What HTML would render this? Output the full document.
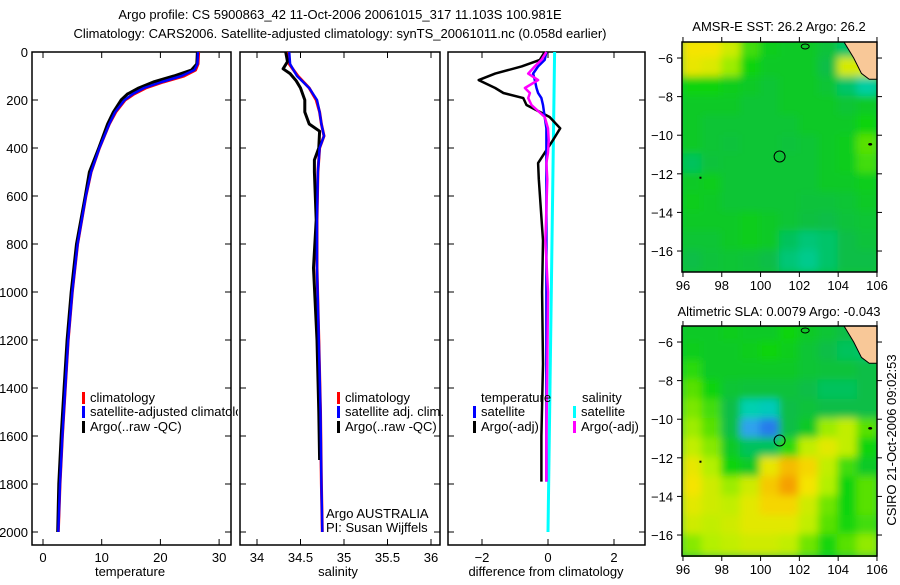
<!DOCTYPE html>
<html><head><meta charset="utf-8"><style>
html,body{margin:0;padding:0;background:#fff;}
svg text{font-family:"Liberation Sans",sans-serif;font-size:13px;fill:#000;}
</style></head><body>
<svg id="chart" width="900" height="580" viewBox="0 0 900 580" xmlns="http://www.w3.org/2000/svg">
<defs>
<filter id="blur" x="0" y="0" width="1" height="1"><feGaussianBlur stdDeviation="4"/></filter>
<clipPath id="clipMap1"><rect x="682" y="42" width="195" height="230"/></clipPath>
<clipPath id="clipMap2"><rect x="682" y="326" width="195" height="231"/></clipPath>
<clipPath id="clipP1"><rect x="32" y="52" width="206" height="493"/></clipPath>
</defs>
<text x="340" y="19" text-anchor="middle" font-size="13.5">Argo profile: CS 5900863_42 11-Oct-2006 20061015_317 11.103S 100.981E</text>
<text x="340" y="38" text-anchor="middle" font-size="13.5">Climatology: CARS2006. Satellite-adjusted climatology: synTS_20061011.nc (0.058d earlier)</text>
<g id="g"></g>
<text x="779" y="31" text-anchor="middle">AMSR-E SST: 26.2 Argo: 26.2</text>
<text x="779" y="316" text-anchor="middle">Altimetric SLA: 0.0079 Argo: -0.043</text>
<text transform="translate(896,440) rotate(-90)" text-anchor="middle">CSIRO 21-Oct-2006 09:02:53</text>
</svg>
<script>
// ---- data ----
const depthTicks=[0,200,400,600,800,1000,1200,1400,1600,1800,2000];
const tDepth=[0,50,75,100,125,150,175,200,250,300,400,500,600,800,1000,1200,1400,1600,1800,2000];
const tClim=[26.5,26.4,26.0,24.0,20.5,17.5,15.5,14.0,12.4,11.3,9.6,8.2,7.3,5.9,5.0,4.3,3.8,3.3,2.9,2.6];
const tSat=[26.4,26.3,25.8,23.6,20.2,17.2,15.3,13.9,12.3,11.3,9.6,8.2,7.3,5.9,5.0,4.3,3.8,3.3,2.9,2.6];
const tArgo=[26.3,26.2,25.3,22.3,18.8,16.3,14.4,13.3,12.0,11.0,9.5,7.9,7.2,5.7,4.8,4.1,3.6,3.1,2.7,2.5];
const sDepth=[0,50,75,100,150,200,250,300,350,400,500,700,900,1200,1500,1800,2000];
const sClim=[34.35,34.37,34.42,34.47,34.6,34.68,34.72,34.74,34.77,34.72,34.7,34.69,34.69,34.71,34.73,34.74,34.75];
const sSat=[34.37,34.38,34.42,34.46,34.6,34.69,34.72,34.74,34.77,34.72,34.7,34.69,34.69,34.71,34.73,34.74,34.75];
const aDepth=[0,40,70,90,120,150,200,250,300,330,400,450,500,700,900,1200,1500,1700];
const sArgo=[34.33,34.35,34.3,34.38,34.45,34.5,34.55,34.55,34.6,34.72,34.71,34.66,34.66,34.68,34.65,34.69,34.71,34.72];
const dDepth=[0,33,60,90,117,150,171,192,221,271,318,367,420,463,530,785,1000,1300,1600,1790];
const dTempArgo=[-0.1,-0.25,-0.8,-1.6,-2.1,-1.6,-1.35,-0.75,-0.65,0.05,0.37,0.15,-0.1,-0.3,-0.28,-0.15,-0.18,-0.15,-0.2,-0.2];
const dTempSat=[-0.05,-0.1,-0.3,-0.45,-0.4,-0.35,-0.3,-0.2,-0.15,-0.1,-0.05,-0.05,-0.05,-0.05,-0.05,-0.05,-0.05,-0.05,-0.05,-0.05];
const dSalArgo=[-0.05,-0.2,-0.4,-0.6,-0.3,-0.7,-0.55,-0.6,-0.5,-0.1,0.0,0.02,0.0,-0.05,-0.02,-0.08,0.0,-0.02,-0.05,-0.05];
const sDDepth=[0,2000];
const dSalSat=[0.2,0.0];
const tempTicks=[0,10,20,30];
const salTicks=[34,34.5,35,35.5,36];
const salTickLabels=["34","34.5","35","35.5","36"];
const diffTicks=[-2,0,2];
const latTicks=[-6,-8,-10,-12,-14,-16];
const lonTicks=[96,98,100,102,104,106];
const sstRows=[
[.8,.8,.74,.6,.52,.5,.5,.47,.4,null],
[.78,.76,.68,.55,.5,.5,.5,.45,.75,null],
[.55,.55,.52,.5,.48,.5,.5,.48,.4,.32],
[.5,.5,.5,.48,.48,.5,.5,.5,.48,.5],
[.5,.48,.48,.48,.48,.48,.5,.5,.5,.55],
[.5,.48,.47,.48,.48,.47,.48,.5,.52,.62],
[.42,.47,.48,.48,.48,.48,.48,.5,.52,.6],
[.5,.52,.48,.48,.48,.48,.48,.5,.5,.52],
[.52,.5,.48,.48,.48,.48,.47,.47,.48,.5],
[.5,.5,.5,.52,.5,.48,.46,.45,.47,.48],
[.48,.48,.5,.52,.5,.42,.38,.4,.45,.47],
[.45,.47,.48,.47,.45,.38,.35,.4,.45,.45]];
const slaRows=[
[.5,.5,.52,.5,.5,.55,.5,.48,.45,.45],
[.52,.5,.5,.52,.55,.52,.48,.45,.42,.4],
[.58,.5,.5,.5,.5,.5,.48,.47,.47,.45],
[.62,.55,.48,.47,.47,.47,.45,.42,.42,.45],
[.65,.6,.45,.3,.28,.45,.47,.45,.45,.45],
[.68,.62,.45,.16,.1,.45,.5,.68,.72,.62],
[.72,.66,.5,.42,.42,.58,.72,.77,.72,.55],
[.78,.7,.55,.5,.78,.86,.82,.72,.6,.5],
[.8,.74,.68,.74,.84,.9,.8,.7,.55,.62],
[.77,.74,.72,.77,.82,.82,.74,.64,.55,.62],
[.74,.72,.74,.77,.77,.77,.72,.62,.56,.6],
[.66,.7,.72,.74,.74,.72,.64,.56,.62,.67]];
const argoLon=100.981, argoLat=-11.103;

const yD=d=>52+d*0.24;
const xT=v=>43+v*5.87;
const xS=v=>257+(v-34)*87;
const xDf=v=>548+v*33;
const NS="http://www.w3.org/2000/svg";
const G=document.getElementById('g');
function mk(tag,at,parent){const e=document.createElementNS(NS,tag);for(const k in at)e.setAttribute(k,at[k]);(parent||G).appendChild(e);return e;}
function txt(x,y,s,anchor,parent){const t=mk('text',{x:x,y:y,'text-anchor':anchor||'start'},parent);t.textContent=s;return t;}

function line(xs,ds,xf,color,w,name,parent){
  const pts=xs.map((v,i)=>xf(v).toFixed(1)+','+yD(ds[i]).toFixed(1)).join(' ');
  const p=mk('polyline',{points:pts,fill:'none',stroke:color,'stroke-width':w,'stroke-linejoin':'round'},parent);
  
  
}
function panel(x0,x1,name){
  const r=mk('rect',{x:x0,y:52,width:x1-x0,height:493,fill:'none',stroke:'#000','stroke-width':1.5});
  
  
  depthTicks.forEach(d=>{mk('line',{x1:x0,x2:x0+6,y1:yD(d),y2:yD(d),stroke:'#000'});mk('line',{x1:x1-6,x2:x1,y1:yD(d),y2:yD(d),stroke:'#000'});});
}
function xticks(ticks,labels,xf){
  ticks.forEach((v,i)=>{const x=xf(v);mk('line',{x1:x,x2:x,y1:52,y2:58,stroke:'#000'});mk('line',{x1:x,x2:x,y1:539,y2:545,stroke:'#000'});
    const t=txt(x,562,labels[i],'middle');});
}
depthTicks.forEach(d=>{const t=txt(28,yD(d)+5,String(d),'end');});
panel(32,231,'temperature-panel');
xticks(tempTicks,tempTicks.map(String),xT);
const ax1=txt(130,576,'temperature','middle');
line(tClim,tDepth,xT,'#f00',3,'temp-climatology-line');
line(tArgo,tDepth,xT,'#000',3,'temp-argo-line');
line(tSat,tDepth,xT,'#00f',2.5,'temp-satellite-line');
function leg(x,y,color,label,name,clip){
  mk('rect',{x:x,y:y-10,width:3,height:12,fill:color});
  const t=txt(x+8,y,label);
  if(clip)t.setAttribute('clip-path','url(#clipP1)');
}
leg(82,402,'#f00','climatology','legend-climatology');
leg(82,416,'#00f','satellite-adjusted climatology','legend-satellite-adjusted',true);
leg(82,431,'#000','Argo(..raw -QC)','legend-argo');
panel(240,440,'salinity-panel');
xticks(salTicks,salTickLabels,xS);
const ax2=txt(338,576,'salinity','middle');
line(sClim,sDepth,xS,'#f00',3,'sal-climatology-line');
line(sArgo,aDepth,xS,'#000',3,'sal-argo-line');
line(sSat,sDepth,xS,'#00f',2.5,'sal-satellite-line');
leg(337,402,'#f00','climatology','legend2-climatology');
leg(337,416,'#00f','satellite adj. clim.','legend2-satellite');
leg(337,431,'#000','Argo(..raw -QC)','legend2-argo');
const a1=txt(326,518,'Argo AUSTRALIA');
const a2=txt(326,532,'PI: Susan Wijffels');
panel(448,645,'difference-panel');
xticks(diffTicks,diffTicks.map(v=>v<0?'\u2212'+Math.abs(v):String(v)),xDf);
const ax3=txt(546,576,'difference from climatology','middle');
line(dSalSat,sDDepth,xDf,'#0ff',3,'diff-sal-satellite-line');
line(dTempArgo,dDepth,xDf,'#000',2.5,'diff-temp-argo-line');
line(dTempSat,dDepth,xDf,'#00f',2.5,'diff-temp-satellite-line');
line(dSalArgo,dDepth,xDf,'#f0f',2.5,'diff-sal-argo-line');
const tl=txt(481,402,'temperature');
const sl=txt(582,402,'salinity');
leg(473,416,'#00f','satellite','legend3-temp-satellite');
leg(473,431,'#000','Argo(-adj)','legend3-temp-argo');
leg(573,416,'#0ff','satellite','legend3-sal-satellite');
leg(573,431,'#f0f','Argo(-adj)','legend3-sal-argo');

const stops=[[0,[16,48,224]],[.15,[48,160,240]],[.3,[0,208,176]],[.45,[8,190,70]],[.55,[10,212,10]],[.7,[180,240,0]],[.8,[245,228,0]],[.9,[245,160,0]],[1,[224,80,0]]];
function cmap(v){for(let i=1;i<stops.length;i++){if(v<=stops[i][0]){const a=stops[i-1],b=stops[i],f=(v-a[0])/(b[0]-a[0]);return 'rgb('+a[1].map((c,k)=>Math.round(c+(b[1][k]-c)*f)).join(',')+')';}}return 'rgb(224,80,0)';}
function drawMap(rows,top,clipId,name){
  const lonX=l=>682+(l-95.95)*19.4;
  const latY=l=>top+(-5.17-l)*19.3;
  const grp=mk('g',{'clip-path':'url(#'+clipId+')'});
  
  
  const inner=mk('g',{filter:'url(#blur)'},grp);
  mk('rect',{x:672,y:top-10,width:215,height:250,fill:cmap(.48)},inner);
  rows.forEach((row,r)=>row.forEach((v,c)=>{
    const val=v===null?row[c-1]:v;
    const cell=mk('rect',{x:lonX(96+c)-1,y:latY(-5-r)-1,width:21.5,height:21.3,fill:cmap(val)},inner);
    
    
  }));
  const land=mk('polygon',{points:[[104.2,-5],[104.8,-6],[105.2,-6.8],[105.6,-7.1],[106.2,-7.1],[106.2,-5]].map(p=>lonX(p[0])+','+latY(p[1])).join(' '),fill:'#f8c898',stroke:'#000','stroke-width':1},grp);
  
  
  mk('ellipse',{cx:lonX(102.3),cy:latY(-5.4),rx:4,ry:2.5,fill:'none',stroke:'#000'},grp);
  mk('ellipse',{cx:lonX(105.65),cy:latY(-10.47),rx:2,ry:1.3,fill:'#000'},grp);
  mk('rect',{x:lonX(96.85),y:latY(-12.15),width:2,height:2,fill:'#000'},grp);
  const c=mk('circle',{cx:lonX(argoLon),cy:latY(argoLat),r:5.5,fill:'none',stroke:'#000','stroke-width':1},grp);
  
  
  const fr=mk('rect',{x:682,y:top,width:195,height:230,fill:'none',stroke:'#000','stroke-width':1.5});
  
  
  latTicks.forEach(l=>{const y=latY(l);mk('line',{x1:677,x2:682,y1:y,y2:y,stroke:'#000'});mk('line',{x1:877,x2:882,y1:y,y2:y,stroke:'#000'});
    const t=txt(673,y+5,'\u2212'+Math.abs(l),'end');});
  lonTicks.forEach(l=>{const x=lonX(l);mk('line',{x1:x,x2:x,y1:top-5,y2:top,stroke:'#000'});mk('line',{x1:x,x2:x,y1:top+230,y2:top+235,stroke:'#000'});
    const t=txt(x,top+248,String(l),'middle');});
}
drawMap(sstRows,42,'clipMap1','sst-map');
drawMap(slaRows,326,'clipMap2','sla-map');
</script>
</body></html>
